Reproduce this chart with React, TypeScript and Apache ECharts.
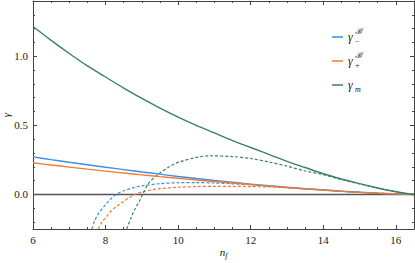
import React, { useEffect, useRef } from "react";
import * as echarts from "echarts";

// n_f grid for the solid curves
const nGrid = [6, 6.5, 7, 7.5, 8, 8.5, 9, 9.5, 10, 10.5, 11, 11.5, 12, 12.5, 13, 13.5, 14, 14.5, 15, 15.5, 16, 16.5];
const gammaMinus = [0.272, 0.252, 0.233, 0.215, 0.197, 0.18, 0.163, 0.147, 0.13, 0.115, 0.101, 0.088, 0.075, 0.063, 0.052, 0.042, 0.033, 0.024, 0.016, 0.009, 0.004, 0];
const gammaPlus = [0.229, 0.213, 0.198, 0.183, 0.169, 0.155, 0.142, 0.129, 0.117, 0.105, 0.094, 0.083, 0.072, 0.06, 0.05, 0.04, 0.031, 0.022, 0.015, 0.009, 0.004, 0];
const gammaM = [1.215, 1.115, 1.02, 0.93, 0.85, 0.77, 0.695, 0.625, 0.56, 0.5, 0.445, 0.39, 0.34, 0.29, 0.24, 0.195, 0.15, 0.112, 0.078, 0.047, 0.02, 0];

// dashed curves
const nMinusDashed = [7.62, 7.7, 7.8, 7.95, 8.1, 8.29, 8.5, 8.75, 9, 9.5, 10, 10.5, 11, 11.5, 12, 12.5, 13, 13.5, 14, 14.5, 15, 15.5, 16, 16.5];
const gammaMinusDashed = [-0.25, -0.19, -0.14, -0.09, -0.045, 0, 0.027, 0.048, 0.062, 0.078, 0.085, 0.086, 0.083, 0.077, 0.07, 0.061, 0.051, 0.042, 0.033, 0.024, 0.016, 0.009, 0.004, 0];
const nPlusDashed = [7.8, 7.9, 8.03, 8.15, 8.3, 8.5, 8.65, 8.81, 9, 9.25, 9.5, 10, 10.5, 11, 11.5, 12, 12.5, 13, 13.5, 14, 14.5, 15, 15.5, 16, 16.5];
const gammaPlusDashed = [-0.25, -0.2, -0.16, -0.12, -0.088, -0.05, -0.024, 0, 0.018, 0.032, 0.042, 0.052, 0.057, 0.059, 0.059, 0.057, 0.054, 0.048, 0.04, 0.032, 0.023, 0.015, 0.009, 0.004, 0];
const nMDashed = [8.58, 8.7, 8.8, 8.95, 9.02, 9.2, 9.5, 9.75, 10, 10.5, 10.87, 11.5, 12, 12.5, 13, 13.5, 14, 14.5, 15, 15.5, 16, 16.5];
const gammaMDashed = [-0.25, -0.17, -0.11, -0.04, 0, 0.085, 0.155, 0.2, 0.232, 0.268, 0.28, 0.274, 0.26, 0.235, 0.205, 0.17, 0.143, 0.108, 0.076, 0.046, 0.02, 0];

const xTicks = [6, 8, 10, 12, 14, 16];
const yTickLabels = ["0.0", "0.5", "1.0"];

const BLUE = "#3a8fe3";
const ORANGE = "#f07b33";
const GREEN = "#3b7f6b";
const FRAME = "#444";
const FONT = "serif";

const pairs = (xs: number[], ys: number[]) => xs.map((x, i) => [x, ys[i]]);

export default function App() {
  const ref = useRef<HTMLDivElement>(null);
  useEffect(() => {
    if (!ref.current) return;
    const chart = echarts.init(ref.current, null, { renderer: "svg" });
    const axisCommon = {
      axisLine: { show: true, onZero: false, lineStyle: { color: FRAME, width: 1 } },
      axisTick: { show: true, inside: true, length: 4, lineStyle: { color: FRAME } },
      minorTick: { show: true, length: 2, lineStyle: { color: FRAME } },
      splitLine: { show: false },
    };
    const xFmt = (v: number) => (xTicks.indexOf(v) >= 0 ? String(v) : "");
    const yFmt = (v: number) => {
      const s = v.toFixed(1);
      return Math.abs(v * 2 - Math.round(v * 2)) < 1e-6 && yTickLabels.indexOf(s) >= 0 ? s : "";
    };
    const line = (name: string, data: number[][], color: string, dashed: boolean) => ({
      type: "line",
      name,
      data,
      showSymbol: false,
      smooth: 0.3,
      clip: true,
      lineStyle: { color, width: dashed ? 1.2 : 1.4, type: dashed ? [3, 2] : "solid" },
      xAxisIndex: 0,
      yAxisIndex: 0,
      z: dashed ? 3 : 4,
    });
    const legendItems = [
      { y: 37, color: BLUE, sup: "ℬ", sub: "−" },
      { y: 61, color: ORANGE, sup: "ℬ", sub: "+" },
      { y: 85, color: GREEN, sup: "", sub: "m" },
    ];
    const graphic: any[] = [];
    legendItems.forEach((it) => {
      graphic.push({ type: "line", shape: { x1: 332, y1: it.y, x2: 343, y2: it.y }, style: { stroke: it.color, lineWidth: 1.5 } });
      graphic.push({ type: "text", x: 348, y: it.y, style: { text: "γ", fontFamily: FONT, fontStyle: "italic", fontSize: 12, fill: "#222", verticalAlign: "middle" } });
      if (it.sup) graphic.push({ type: "text", x: 355, y: it.y - 6, style: { text: it.sup, fontFamily: FONT, fontStyle: "italic", fontSize: 8, fill: "#222", verticalAlign: "middle" } });
      graphic.push({ type: "text", x: 355, y: it.y + 4, style: { text: it.sub, fontFamily: FONT, fontStyle: it.sub === "m" ? "italic" : "normal", fontSize: 8, fill: "#222", verticalAlign: "middle" } });
    });
    chart.setOption({
      animation: false,
      textStyle: { fontFamily: FONT },
      grid: { left: 33, right: 1, top: 1, bottom: 34, containLabel: false, outerBoundsMode: "none" },
      xAxis: [
        {
          type: "value",
          min: 6,
          max: 16.5,
          interval: 2,
          position: "bottom",
          ...axisCommon,
          minorTick: { ...axisCommon.minorTick, splitNumber: 4 },
          axisLabel: { formatter: xFmt, fontFamily: FONT, fontSize: 11, color: "#222", margin: 5, showMaxLabel: false },
          name: "{n|n}{f|f}",
          nameLocation: "middle",
          nameGap: 16,
          nameMoveOverlap: false,
          nameTextStyle: {
            fontFamily: FONT,
            rich: {
              n: { fontFamily: FONT, fontStyle: "italic", fontSize: 11, color: "#222" },
              f: { fontFamily: FONT, fontStyle: "italic", fontSize: 8, color: "#222", verticalAlign: "bottom", padding: [6, 0, 0, 0] },
            },
          },
        },
        {
          type: "value",
          min: 6,
          max: 16.5,
          interval: 2,
          position: "top",
          ...axisCommon,
          minorTick: { ...axisCommon.minorTick, splitNumber: 4 },
          axisLabel: { show: false },
        },
      ],
      yAxis: [
        {
          type: "value",
          min: -0.25,
          max: 1.4,
          splitNumber: 4,
          position: "left",
          ...axisCommon,
          minorTick: { ...axisCommon.minorTick, splitNumber: 5 },
          axisLabel: { formatter: yFmt, fontFamily: FONT, fontSize: 11, color: "#222", margin: 5, showMinLabel: false, showMaxLabel: false },
          name: "γ",
          nameLocation: "middle",
          nameGap: 22,
          nameMoveOverlap: false,
          nameTextStyle: { fontFamily: FONT, fontStyle: "italic", fontSize: 11, color: "#222" },
        },
        {
          type: "value",
          min: -0.25,
          max: 1.4,
          splitNumber: 4,
          position: "right",
          ...axisCommon,
          minorTick: { ...axisCommon.minorTick, splitNumber: 5 },
          axisLabel: { show: false },
        },
      ],
      series: [
        {
          type: "line",
          data: [[6, 0], [16.5, 0]],
          showSymbol: false,
          lineStyle: { color: "#555", width: 1.5 },
          z: 2,
          silent: true,
        },
        line("γ−", pairs(nGrid, gammaMinus), BLUE, false),
        line("γ+", pairs(nGrid, gammaPlus), ORANGE, false),
        line("γm", pairs(nGrid, gammaM), GREEN, false),
        line("γ− dashed", pairs(nMinusDashed, gammaMinusDashed), BLUE, true),
        line("γ+ dashed", pairs(nPlusDashed, gammaPlusDashed), ORANGE, true),
        line("γm dashed", pairs(nMDashed, gammaMDashed), GREEN, true),
      ],
      graphic,
    });
    return () => chart.dispose();
  }, []);
  return <div ref={ref} style={{ width: 415, height: 263, position: "absolute", left: 0, top: 0 }} />;
}
